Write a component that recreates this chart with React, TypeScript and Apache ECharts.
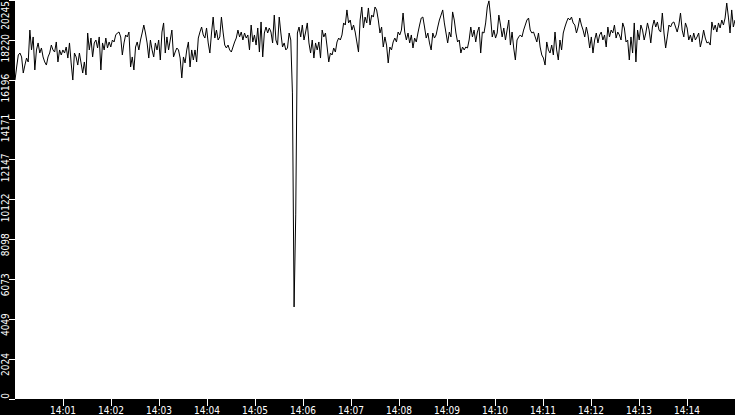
import * as echarts from "echarts";
import React, { useEffect, useRef } from "react";

// seconds after 14:00:00 covered by the x axis
const SPAN_SECONDS = 900;
const Y_MAX = 20245;
const Y_STEP = 2024.5;

// samples, left to right, evenly spaced in time
const values1400 = [
  16185, 16845, 17455, 17555, 17355, 16540, 16945, 17300, 17100, 18720,
  17710, 18370, 16695, 17710, 18065, 17555, 17810, 17355, 17100, 16945,
  17355, 17555, 17960, 17710, 17605, 18115, 17100, 17710, 17455, 17710,
  17555, 17860, 17300, 18065, 17050, 16185, 17555, 17355, 16945, 17555,
  17050, 16540, 17100, 16440, 18570, 17710, 18315, 17355, 18065, 18215,
  17810, 18370, 16695, 18065, 17710, 18315, 17810, 18115, 17860, 18215,
  18115, 18470, 18570, 18620, 18370, 17455, 18065, 18470, 18370, 18620,
  16845, 17355, 16695, 17860, 18115, 17710, 18215, 18570, 18975,
];

const values1403 = [
  18570, 18065, 17300, 18215, 17710, 17355, 18065, 17710, 18215, 17200,
  18620, 19080, 17555, 18370, 17710, 18215, 18720, 17355, 17605, 17810,
  17710, 17300, 16290, 17355, 17050, 17710, 18115, 16845, 17710, 17200,
  17710, 17100, 18315, 18620, 18875, 18470, 18315, 18825, 18065, 17555,
  18570, 19380, 18315, 18720, 18215, 18370, 19380, 18620, 17960, 17810,
  17960, 17710, 17605, 17860, 18115, 18315, 18720, 18370, 18620, 18215,
  18570, 18315, 18470, 17710, 18975, 18115, 18470, 17960, 18825, 17605,
  19130, 17355, 18570, 18875, 18570, 18825,
];

const values1405 = [
  18620, 18065, 19480, 18215, 17960, 19380, 18570, 17860, 18065, 17710,
  17810, 18570, 18215,
];

// the drop just before 14:06
const valuesDrop = [15530, 4670, 9340];

const values1406 = [
  18570, 18875, 18370, 18975, 18215, 18620, 19080, 18065, 17555, 18215,
  17300, 18065, 17710, 18115, 17300, 18720, 18370, 18570, 17860, 17100,
  17555, 17455, 17810, 17605, 18115, 18315, 18215, 18470, 19080, 18975,
  19740, 19080, 19230, 18720, 18975, 18620, 18115, 17605, 19230, 19890,
  18825, 19380, 19080, 19840, 18975, 19480, 19380, 19890, 19740, 19230,
  18570, 18875, 17860, 18370, 17960, 17050, 17860, 17710, 18115, 18315,
];

const values1408 = [
  18115, 18620, 18470, 18720, 19585, 18620, 18215, 18570, 18065, 18470,
  17810, 18315, 18115, 18570, 18975, 19330, 19380, 18875, 18315, 18570,
  18065, 17710, 18570, 18315, 18470, 18875, 19230, 19480, 19740, 19080,
  18570, 18065, 18620, 18370, 19640, 19230, 18570, 18115, 18215, 17555,
  17860, 17710, 17860, 17810, 18215, 18875, 18370, 18720, 18115, 18620,
  18875, 17555, 18620, 18570, 19080, 19890, 20200, 19380, 18370, 18720,
  18315, 18570, 19480, 18975, 18370, 18825, 18215, 18720, 19230, 17960,
  18620, 17810, 17200, 18215, 18370, 18470,
];

const values1410 = [
  18370, 18720, 18975, 19230, 19330, 18720, 18570, 18620, 18370, 18115,
  18570, 17860, 17455, 17300, 16945, 18115, 17710, 17555, 17960, 17455,
  18620, 17710, 17200, 18215, 17710, 18570, 18875, 19130, 19330, 19230,
  19380, 19080, 18975, 18570, 18875, 19330, 18975, 18720, 18370, 18875,
  18470, 17810, 18370, 17555, 18215, 18570, 18065, 18470, 18620, 18215,
  18470, 17860, 18875, 18370, 18720, 18570, 18975, 18315, 18620, 18470,
  18215, 19080, 18825, 18115, 18215, 17200,
];

const values1413 = [
  18370, 17555, 19080, 17100, 18720, 18215, 18975, 18720, 18215, 18570,
  19080, 18720, 18065, 18875, 19230, 18875, 19130, 18720, 18620, 19585,
  18570, 17810, 18370, 18975, 18875, 19080, 19130, 18875, 18620, 18975,
  19585, 18720, 18370, 19080, 18825, 18215, 18470, 18115, 18570, 18215,
  18370, 18570, 17860, 18215, 18720, 18315, 18065, 18115, 17960, 19130,
  18720, 18975, 18620, 19080, 18825, 19230, 18975, 19330, 20090, 19380,
  18570, 19740, 18875, 19230,
];

const FONT = "'DejaVu Sans Condensed', 'DejaVu Sans', sans-serif";

const App: React.FC = () => {
  const chartRef = useRef<HTMLDivElement | null>(null);

  useEffect(() => {
    if (!chartRef.current) return;
    const chart = echarts.init(chartRef.current, null, { renderer: "svg" });

    const values = [
      ...values1400,
      ...values1403,
      ...values1405,
      ...valuesDrop,
      ...values1406,
      ...values1408,
      ...values1410,
      ...values1413,
    ];
    const step = SPAN_SECONDS / (values.length - 1);
    const data = values.map((v, i) => [i * step, v]);

    const labelText = { color: "#fff", fontSize: 10, fontFamily: FONT };

    const option: any = {
      animation: false,
      backgroundColor: "#000",
      textStyle: { fontFamily: FONT },
      grid: [
        {
          left: 15,
          right: 0,
          top: 0,
          bottom: 16,
          show: true,
          backgroundColor: "#fff",
          borderWidth: 0,
          outerBoundsMode: "none",
        },
        // same scale shifted up a little, only used to place the y labels
        {
          left: 15,
          right: 0,
          top: -6,
          bottom: 22,
          show: false,
          outerBoundsMode: "none",
        },
      ],
      xAxis: [
        {
          type: "value",
          gridIndex: 0,
          min: 0,
          max: SPAN_SECONDS,
          interval: 60,
          axisLine: { show: false },
          axisTick: { show: true, length: 7, lineStyle: { color: "#fff", width: 1 } },
          axisLabel: {
            ...labelText,
            margin: 6,
            showMinLabel: false,
            showMaxLabel: false,
            formatter: (v: number) => "14:" + String(Math.round(v / 60)).padStart(2, "0"),
          },
          splitLine: { show: false },
        },
        { type: "value", gridIndex: 1, min: 0, max: SPAN_SECONDS, show: false },
      ],
      yAxis: [
        {
          type: "value",
          gridIndex: 0,
          min: 0,
          max: Y_MAX,
          interval: Y_STEP,
          axisLine: { show: false },
          axisTick: { show: true, length: 6, lineStyle: { color: "#fff", width: 1 } },
          axisLabel: { show: false },
          splitLine: { show: false },
        },
        {
          type: "value",
          gridIndex: 1,
          min: 0,
          max: Y_MAX,
          interval: Y_STEP,
          axisLine: { show: false },
          axisTick: { show: false },
          splitLine: { show: false },
          axisLabel: {
            ...labelText,
            rotate: 90,
            align: "right",
            verticalAlign: "bottom",
            margin: 5,
            showMinLabel: true,
            showMaxLabel: true,
            formatter: (v: number) => {
              const s = String(Math.floor(v));
              // the top label is pushed down so that it stays inside the chart
              return v >= Y_MAX ? "{top|" + s + "}" : s;
            },
            rich: {
              top: { ...labelText, padding: [0, 7, 0, 0] },
            },
          },
        },
      ],
      series: [
        {
          type: "line",
          xAxisIndex: 0,
          yAxisIndex: 0,
          data,
          symbol: "none",
          showSymbol: false,
          lineStyle: { color: "#000", width: 1 },
        },
      ],
      // hide the ticks of 14:00 and 14:15 at both ends of the axis
      graphic: [
        { type: "rect", z: 100, shape: { x: 13, y: 400, width: 4, height: 10 }, style: { fill: "#000" } },
        { type: "rect", z: 100, shape: { x: 732, y: 400, width: 4, height: 10 }, style: { fill: "#000" } },
      ],
    };

    chart.setOption(option);

    return () => {
      chart.dispose();
    };
  }, []);

  return (
    <div
      ref={chartRef}
      style={{ position: "fixed", left: 0, top: 0, width: "735px", height: "415px" }}
    />
  );
};

export default App;
